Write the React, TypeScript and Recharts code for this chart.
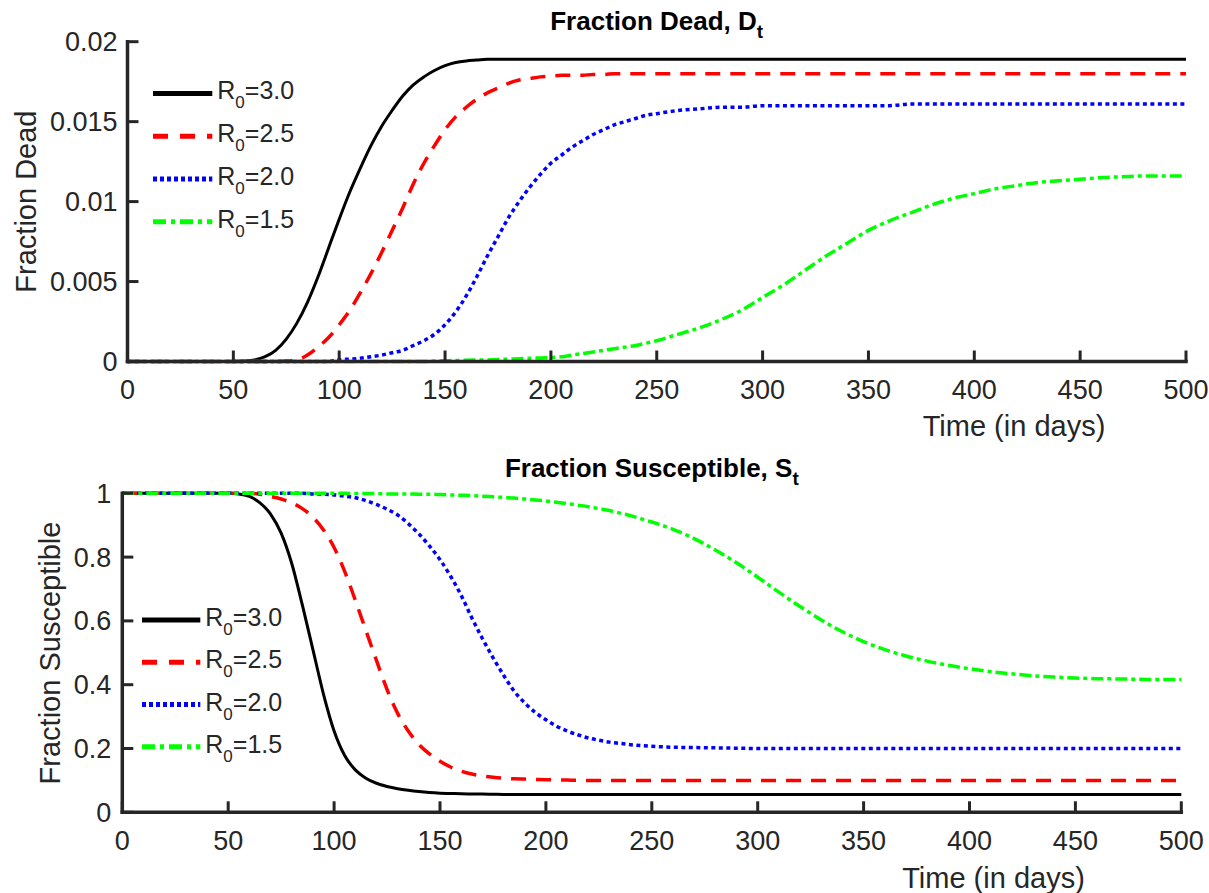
import React from 'react';
import { LineChart, Line, XAxis, YAxis, Legend } from 'recharts';

// ---- data (5-day steps where curves are steep, 10-day elsewhere) ----
const days = [0,10,20,30,40,50,55,60,65,70,75,80,85,90,95,100,105,110,115,120,125,130,135,140,145,150,155,160,165,170,175,180,185,190,195,200,205,210,215,220,225,230,235,240,245,250,260,270,280,290,300,310,320,330,340,350,360,370,380,390,400,410,420,430,440,450,460,470,480,490,500];

const deadR30 = [0,0,0,0,0,0,
  0.00003,0.0001,0.0003,0.0007,0.0014,0.0024,0.0037,0.0053,0.0071,0.0089,0.0106,0.0121,0.0135,0.0147,0.0157,0.0166,0.0173,0.0178,0.0182,0.0185,0.0187,0.0188,0.01885,0.0189,
  0.0189,0.0189,0.0189,0.0189,0.0189,0.0189,0.0189,0.0189,0.0189,0.0189,0.0189,0.0189,0.0189,0.0189,0.0189,0.0189,
  0.0189,0.0189,0.0189,0.0189,0.0189,0.0189,0.0189,0.0189,0.0189,0.0189,0.0189,0.0189,0.0189,0.0189,0.0189,0.0189,0.0189,0.0189,0.0189,0.0189,0.0189,0.0189,0.0189,0.0189,0.0189];
const deadR25 = [0,0,0,0,0,0,
  0,0,0,0,0.00003,0.0001,0.0004,0.0009,0.0015,0.0023,0.0032,0.0043,0.0055,0.0068,0.0082,0.0096,0.0111,0.0124,0.0135,0.0145,0.0153,0.0159,0.0164,0.0168,0.0171,0.0174,0.0176,0.0177,0.0178,0.01785,0.0179,0.0179,0.0179,0.01795,0.01795,0.018,0.018,0.018,0.018,0.018,
  0.018,0.018,0.018,0.018,0.018,0.018,0.018,0.018,0.018,0.018,0.018,0.018,0.018,0.018,0.018,0.018,0.018,0.018,0.018,0.018,0.018,0.018,0.018,0.018,0.018];
const deadR20 = [0,0,0,0,0,0,
  0,0,0,0,0,0,0,0,0,
  0.0001,0.00015,0.0002,0.0003,0.0004,0.00055,0.0007,0.001,0.0013,0.0017,0.0023,0.0031,0.0041,0.0053,0.0066,0.0078,0.009,0.01,0.0109,0.0117,0.0124,0.0129,0.0134,0.0138,0.0142,0.0145,0.0148,0.015,0.0152,0.0154,0.0155,
  0.0157,0.0158,0.0159,0.0159,0.016,0.016,0.016,0.016,0.016,0.016,0.016,0.0161,0.0161,0.0161,0.0161,0.0161,0.0161,0.0161,0.0161,0.0161,0.0161,0.0161,0.0161,0.0161,0.0161];
const deadR15 = [0,0,0,0,0,0,
  0,0,0,0,0,0,0,0,0,0,0,0,0,0,0,0,0,0,
  0.00003,0.00005,0.00006,0.00008,0.00009,0.0001,0.00012,0.00015,0.00017,0.0002,0.00022,0.00025,0.0003,0.0004,0.0005,0.0006,0.0007,0.0008,0.0009,0.001,0.00115,0.0013,
  0.0017,0.0021,0.0026,0.0032,0.004,0.0048,0.0057,0.0066,0.0074,0.0082,0.0088,0.0093,0.0098,0.0102,0.0105,0.0108,0.011,0.0112,0.0113,0.0114,0.0115,0.01155,0.0116,0.0116,0.0116];

const suscR30 = [1,1,1,1,1,1,
  0.998,0.99,0.97,0.935,0.875,0.78,0.65,0.51,0.37,0.255,0.178,0.133,0.107,0.091,0.081,0.074,0.069,0.065,0.062,0.06,0.059,0.058,0.0575,0.057,0.0565,0.056,
  0.056,0.056,0.056,0.056,0.056,0.056,0.056,0.056,0.056,0.056,0.056,0.056,0.056,0.056,
  0.056,0.056,0.056,0.056,0.056,0.056,0.056,0.056,0.056,0.056,0.056,0.056,0.056,0.056,0.056,0.056,0.056,0.056,0.056,0.056,0.056,0.056,0.056,0.056,0.056];
const suscR25 = [1,1,1,1,1,1,
  1,1,0.997,0.99,0.982,0.97,0.952,0.925,0.885,0.83,0.755,0.665,0.57,0.476,0.385,0.31,0.255,0.213,0.183,0.16,0.142,0.129,0.12,0.114,0.11,0.107,0.105,0.104,0.103,0.102,0.1015,0.101,0.1005,0.1,
  0.1,0.1,0.1,0.1,0.1,0.1,
  0.1,0.1,0.1,0.1,0.1,0.1,0.1,0.1,0.1,0.1,0.1,0.1,0.1,0.1,0.1,0.1,0.1,0.1,0.1,0.1,0.1,0.1,0.1,0.1,0.1];
const suscR20 = [1,1,1,1,1,1,
  1,1,1,1,1,1,1,
  0.998,0.997,0.995,0.991,0.986,0.977,0.965,0.95,0.932,0.905,0.873,0.835,0.792,0.74,0.68,0.61,0.545,0.485,0.43,0.38,0.343,0.313,0.29,0.27,0.255,0.243,0.233,0.226,0.22,0.216,0.212,0.209,0.207,
  0.204,0.203,0.202,0.201,0.2,0.2,0.2,0.2,0.2,0.2,0.2,0.2,0.2,0.2,0.2,0.2,0.2,0.2,0.2,0.2,0.2,0.2,0.2,0.2,0.2];
const suscR15 = [1,1,1,1,1,1,
  1,1,1,1,1,1,1,1,1,1,1,
  0.999,0.999,0.999,0.998,0.998,0.998,0.997,0.997,0.996,0.995,0.994,0.993,0.991,0.989,0.987,0.985,0.982,0.979,0.976,0.972,0.968,0.963,0.958,0.952,0.946,0.938,0.93,0.92,0.91,
  0.887,0.858,0.822,0.782,0.737,0.69,0.645,0.603,0.566,0.535,0.51,0.49,0.474,0.461,0.45,0.441,0.434,0.428,0.424,0.421,0.419,0.418,0.417,0.416,0.416];

const xTicks = [0,50,100,150,200,250,300,350,400,450,500];
const deadTicks = [0,0.005,0.01,0.015,0.02];
const suscTicks = [0,0.2,0.4,0.6,0.8,1];

const seriesKeys = ['r30','r25','r20','r15'];
const seriesLabels = ['3.0','2.5','2.0','1.5'];
const seriesColors = ['#000000','#ff0000','#0000ff','#00ff00'];
const seriesDash = [undefined,'15 10','4 3.5','12 4 4 4'];
const legendDash = [undefined,'15 12','4 3','13 5 4 5'];

const deadData = days.map((t, i) => ({ t, r30: deadR30[i], r25: deadR25[i], r20: deadR20[i], r15: deadR15[i] }));
const suscData = days.map((t, i) => ({ t, r30: suscR30[i], r25: suscR25[i], r20: suscR20[i], r15: suscR15[i] }));

const FONT = '"Liberation Sans", Arial, Helvetica, sans-serif';
const AXIS = '#262626';

const makeLegend = (rowGap: number, lineLen: number) => () => (
  <svg width={lineLen + 115} height={rowGap * 4} style={{ display: 'block', overflow: 'visible' }}>
    {seriesKeys.map((k, i) => {
      const y = rowGap / 2 + i * rowGap;
      return (
        <g key={k}>
          <line x1={0} x2={lineLen} y1={y} y2={y} stroke={seriesColors[i]} strokeWidth={5} strokeDasharray={legendDash[i]} />
          <text x={lineLen + 5} y={y + 6} fontFamily={FONT} fontSize={25} fill={AXIS}>
            R<tspan fontSize={17} dy={9}>0</tspan><tspan dy={-9}>{'=' + seriesLabels[i]}</tspan>
          </text>
        </g>
      );
    })}
  </svg>
);

const tickStyle = { fill: AXIS, fontSize: 27, fontFamily: FONT };
const axisLineStyle = { stroke: AXIS, strokeWidth: 3.5, strokeLinecap: 'square' as const };
const tickLineStyle = { stroke: AXIS, strokeWidth: 3 };

function Panel(props: { data: any[]; yTicks: number[]; yDomain: [number, number]; width: number; height: number; margin: any; legendLeft: number; legendTop: number; legendGap: number; legendLen: number; yTickMargin: number }) {
  const { data, yTicks, yDomain, width, height, margin, legendLeft, legendTop, legendGap, legendLen, yTickMargin } = props;
  return (
    <LineChart width={width} height={height} data={data} margin={margin}>
      <XAxis dataKey="t" type="number" domain={[0, 500]} ticks={xTicks} interval={0} height={30}
        tickSize={-11} tickMargin={29.5} axisLine={axisLineStyle} tickLine={tickLineStyle} tick={tickStyle} />
      <YAxis type="number" domain={yDomain} ticks={yTicks} interval={0} width={80}
        tickSize={-11} tickMargin={yTickMargin} axisLine={axisLineStyle} tickLine={tickLineStyle} tick={tickStyle} />
      {seriesKeys.map((k, i) => (
        <Line key={k} type="monotone" dataKey={k} name={'R0=' + seriesLabels[i]} stroke={seriesColors[i]}
          strokeWidth={i === 0 ? 3 : 3.5} strokeDasharray={seriesDash[i]} dot={false} activeDot={false}
          isAnimationActive={false} />
      ))}
      <Legend verticalAlign="middle" align="center" layout="horizontal" content={makeLegend(legendGap, legendLen)}
        wrapperStyle={{ position: 'absolute', left: legendLeft, top: legendTop, width: 'auto', height: 'auto', margin: 0, padding: 0, lineHeight: 0 }} />
    </LineChart>
  );
}

export default function App() {
  return (
    <div style={{ position: 'absolute', left: 0, top: 0, width: 1209, height: 893, overflow: 'hidden', background: '#ffffff' }}>
      <div style={{ position: 'absolute', left: 0, top: 0 }}>
        <Panel data={deadData} yTicks={deadTicks} yDomain={[0, 0.02]} width={1209} height={450}
          margin={{ top: 41.7, right: 23, left: 47.5, bottom: 58.5 }}
          legendLeft={152.7} legendTop={71.9} legendGap={42.8} legendLen={59.3} yTickMargin={21} />
      </div>
      <div style={{ position: 'absolute', left: 0, top: 450 }}>
        <Panel data={suscData} yTicks={suscTicks} yDomain={[0, 1]} width={1209} height={443}
          margin={{ top: 43.3, right: 27.7, left: 42.3, bottom: 50.7 }}
          legendLeft={141.7} legendTop={148.9} legendGap={42.2} legendLen={58.3} yTickMargin={22} />
      </div>
      <svg width={1209} height={893} style={{ position: 'absolute', left: 0, top: 0, pointerEvents: 'none' }}>
        <text x={656.7} y={30} textAnchor="middle" fontFamily={FONT} fontWeight="bold" fontSize={26} fill="#000">
          Fraction Dead, D<tspan fontSize={19} dy={8}>t</tspan>
        </text>
        <text x={651.8} y={477} textAnchor="middle" fontFamily={FONT} fontWeight="bold" fontSize={26} fill="#000">
          Fraction Susceptible, S<tspan fontSize={19} dy={8}>t</tspan>
        </text>
        <text x={1014} y={436} textAnchor="middle" fontFamily={FONT} fontSize={29} fill={AXIS}>Time (in days)</text>
        <text x={993.5} y={888} textAnchor="middle" fontFamily={FONT} fontSize={29} fill={AXIS}>Time (in days)</text>
        <text x={36.5} y={201.6} textAnchor="middle" fontFamily={FONT} fontSize={29} fill={AXIS} transform="rotate(-90 36.5 201.6)">Fraction Dead</text>
        <text x={60} y={653} textAnchor="middle" fontFamily={FONT} fontSize={29} fill={AXIS} transform="rotate(-90 60 653)">Fraction Susceptible</text>
      </svg>
    </div>
  );
}
